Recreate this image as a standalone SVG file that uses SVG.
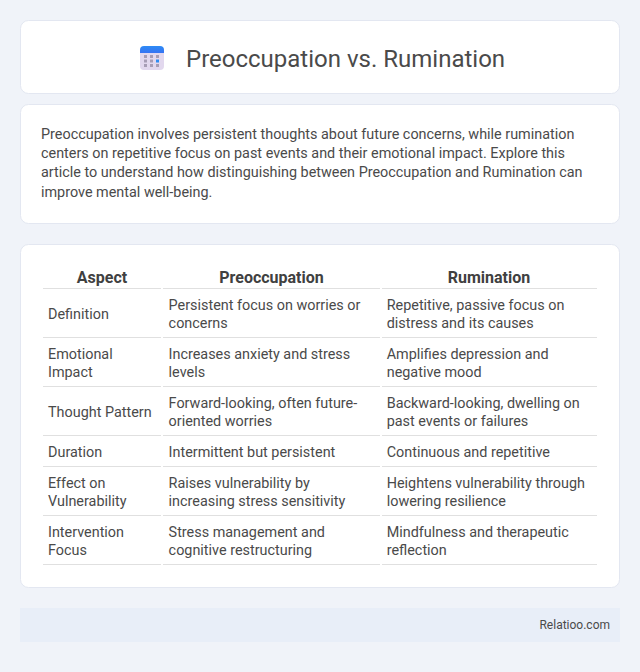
<svg xmlns="http://www.w3.org/2000/svg" width="640" height="672" viewBox="0 0 640 672">
<defs><linearGradient id="ib" x1="0" y1="0" x2="0" y2="1"><stop offset="0" stop-color="#2e8bf5"/><stop offset="1" stop-color="#3b62f0"/></linearGradient></defs>
<style>
text{font-family:Roboto,"Liberation Sans",sans-serif;fill:#4a4a4a;font-size:14.4px}
.card{fill:#fff;stroke:#e3e7f1;stroke-width:1}
.h{font-weight:700;font-size:16px;text-anchor:middle;fill:#404040}
.l{stroke:#e0e0e0;stroke-width:1;fill:none}
.g{fill:#a79db5}
</style>
<rect width="640" height="672" fill="#f0f3f9"/>
<g id="title">
<rect class="card" x="20.500" y="20.500" width="599" height="73" rx="8"/>
<path d="M140 58V50a4 4 0 0 1 4-4h16a4 4 0 0 1 4 4v8z" fill="url(#ib)"/>
<path d="M140 53h24v13a4 4 0 0 1-4 4h-16a4 4 0 0 1-4-4z" fill="#e2d8ee"/>
<g class="g"><rect x="144" y="55" width="3" height="3"/><rect x="150" y="55" width="3" height="3"/><rect x="156" y="55" width="3" height="3"/><rect x="144" y="59.500" width="3" height="3"/><rect x="150" y="59.500" width="3" height="3"/><rect x="144" y="64" width="3" height="3"/><rect x="150" y="64" width="3" height="3"/><rect x="156" y="64" width="3" height="3"/></g>
<rect x="156" y="59.500" width="3" height="3" fill="#2f8cf2"/>
<text x="186" y="67" style="font-size:24px" fill="#444">Preoccupation vs. Rumination</text>
</g>
<g id="intro">
<rect class="card" x="20.500" y="104.500" width="599" height="119" rx="8"/>
<text x="41" y="139">Preoccupation involves persistent thoughts about future concerns, while rumination</text>
<text x="41" y="158">centers on repetitive focus on past events and their emotional impact. Explore this</text>
<text x="41" y="177">article to understand how distinguishing between Preoccupation and Rumination can</text>
<text x="41" y="197">improve mental well-being.</text>
</g>
<g id="table">
<rect class="card" x="20.500" y="244.500" width="599" height="343" rx="8"/>
<text class="h" x="102" y="283">Aspect</text><text class="h" x="271.500" y="283">Preoccupation</text><text class="h" x="489" y="283">Rumination</text>
<g class="l">
<path d="M43 288.500H161M163 288.500H380M382 288.500H597"/>
<path d="M43 337.500H161M163 337.500H380M382 337.500H597"/>
<path d="M43 386.500H161M163 386.500H380M382 386.500H597"/>
<path d="M43 435.500H161M163 435.500H380M382 435.500H597"/>
<path d="M43 466.500H161M163 466.500H380M382 466.500H597"/>
<path d="M43 515.500H161M163 515.500H380M382 515.500H597"/>
<path d="M43 564.500H161M163 564.500H380M382 564.500H597"/>
</g>
<text x="48" y="319">Definition</text>
<text x="168.600" y="310">Persistent focus on worries or</text><text x="168.600" y="328">concerns</text>
<text x="386.700" y="310">Repetitive, passive focus on</text><text x="386.700" y="328">distress and its causes</text>
<text x="48" y="359">Emotional</text><text x="48" y="377">Impact</text>
<text x="168.600" y="359">Increases anxiety and stress</text><text x="168.600" y="377">levels</text>
<text x="386.700" y="359">Amplifies depression and</text><text x="386.700" y="377">negative mood</text>
<text x="48" y="417">Thought Pattern</text>
<text x="168.600" y="408">Forward-looking, often future-</text><text x="168.600" y="426">oriented worries</text>
<text x="386.700" y="408">Backward-looking, dwelling on</text><text x="386.700" y="426">past events or failures</text>
<text x="48" y="457">Duration</text><text x="168.600" y="457">Intermittent but persistent</text><text x="386.700" y="457">Continuous and repetitive</text>
<text x="48" y="488">Effect on</text><text x="48" y="506">Vulnerability</text>
<text x="168.600" y="488">Raises vulnerability by</text><text x="168.600" y="506">increasing stress sensitivity</text>
<text x="386.700" y="488">Heightens vulnerability through</text><text x="386.700" y="506">lowering resilience</text>
<text x="48" y="537">Intervention</text><text x="48" y="555">Focus</text>
<text x="168.600" y="537">Stress management and</text><text x="168.600" y="555">cognitive restructuring</text>
<text x="386.700" y="537">Mindfulness and therapeutic</text><text x="386.700" y="555">reflection</text>
</g>
<g id="footer">
<rect x="20" y="608" width="600" height="34" fill="#e8eef8"/>
<text x="610" y="629" text-anchor="end" style="font-size:12px">Relatioo.com</text>
</g>
</svg>
